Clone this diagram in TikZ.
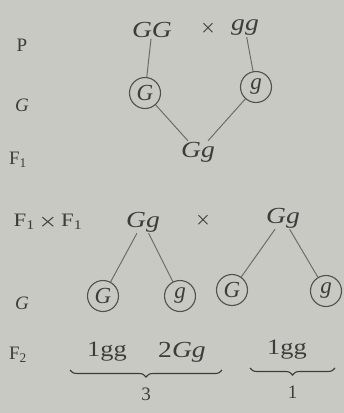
\documentclass[tikz,border=0pt]{standalone}
\usepackage{amsmath,amssymb}
\usepackage{fontspec}
\usepackage{graphicx}
\setmainfont{Liberation Serif}
\usetikzlibrary{decorations.pathreplacing}
\definecolor{PaperGray}{HTML}{C9C9C4}
\definecolor{InkGray}{HTML}{3C3C3A}
\newcommand\widen[1]{\scalebox{1.2}[1]{#1}}

\begin{document}
\begin{tikzpicture}[x=1pt, y=-1pt,
  geno/.style={inner sep=1pt, text=InkGray, font=\fontsize{23}{24}\selectfont\itshape},
  gam/.style={circle, draw=InkGray!90, line width=1.1pt, minimum size=31pt, inner sep=0pt,
    text=InkGray, font=\fontsize{23}{24}\selectfont\itshape},
  row/.style={text=InkGray, font=\fontsize{19}{22}\selectfont},
  link/.style={draw=InkGray!75, line width=1pt}]
% Paper background
\fill[PaperGray] (0,0) rectangle (344,413);
\useasboundingbox (0,0) rectangle (344,413);

% Row labels
\node[row] (lP) at (22,45) {P};
\node[row] (lG1) at (22,105) {\itshape G};
\node[row] (lF1) at (18,160) {F\textsubscript{1}};
\node[row] (lFF) at (48,222) {\widen{F\textsubscript{1}\,$\boldsymbol{\times}$\,F\textsubscript{1}}};
\node[row] (lG2) at (22,303) {\itshape G};
\node[row] (lF2) at (18,355) {F\textsubscript{2}};

% Parents and first generation
\node[geno] (GG) at (152,30) {\widen{GG}};
\node[geno, font=\fontsize{19}{20}\selectfont] (x1) at (208,28) {$\boldsymbol{\times}$};
\node[geno] (gg) at (245,28) {\widen{gg}};
\node[gam] (cG) at (145,93) {G};
\node[gam] (cg) at (256,87) {g};
\node[geno] (Gg1) at (198,152) {\widen{Gg}};

\draw[link] (GG) -- (cG);
\draw[link] (gg) -- (cg);
\draw[link] (cG) -- (Gg1);
\draw[link] (cg) -- (Gg1);

% Selfing F1
\node[geno] (GgL) at (143,222) {\widen{Gg}};
\node[geno, font=\fontsize{19}{20}\selectfont] (x2) at (203,220) {$\boldsymbol{\times}$};
\node[geno] (GgR) at (283,218) {\widen{Gg}};

\foreach \n/\px/\py/\t in {c1/103/296/G, c2/180/296/g, c3/232/290/G, c4/326/291/g}
  \node[gam] (\n) at (\px,\py) {\t};

\draw[link] (GgL) -- (c1);
\draw[link] (GgL) -- (c2);
\draw[link] (GgR) -- (c3);
\draw[link] (GgR) -- (c4);

% Second generation
\node[geno, font=\fontsize{22}{24}\selectfont] (n1) at (107,352) {\widen{1gg}};
\node[geno] (n2) at (182,352) {\widen{\upshape 2\itshape Gg}};
\node[geno, font=\fontsize{22}{24}\selectfont] (n3) at (287,350) {\widen{1gg}};

\coordinate (b1l) at (70,370);
\coordinate (b1r) at (222,370);
\coordinate (b2l) at (250,368);
\coordinate (b2r) at (335,368);
\draw[InkGray, line width=1.1pt, decorate, decoration={brace, mirror, amplitude=7pt}]
  (b1l) -- (b1r) node[row, midway, below=14pt] (r1) {3};
\draw[InkGray, line width=1.1pt, decorate, decoration={brace, mirror, amplitude=7pt}]
  (b2l) -- (b2r) node[row, midway, below=14pt] (r2) {1};
\end{tikzpicture}
\end{document}
